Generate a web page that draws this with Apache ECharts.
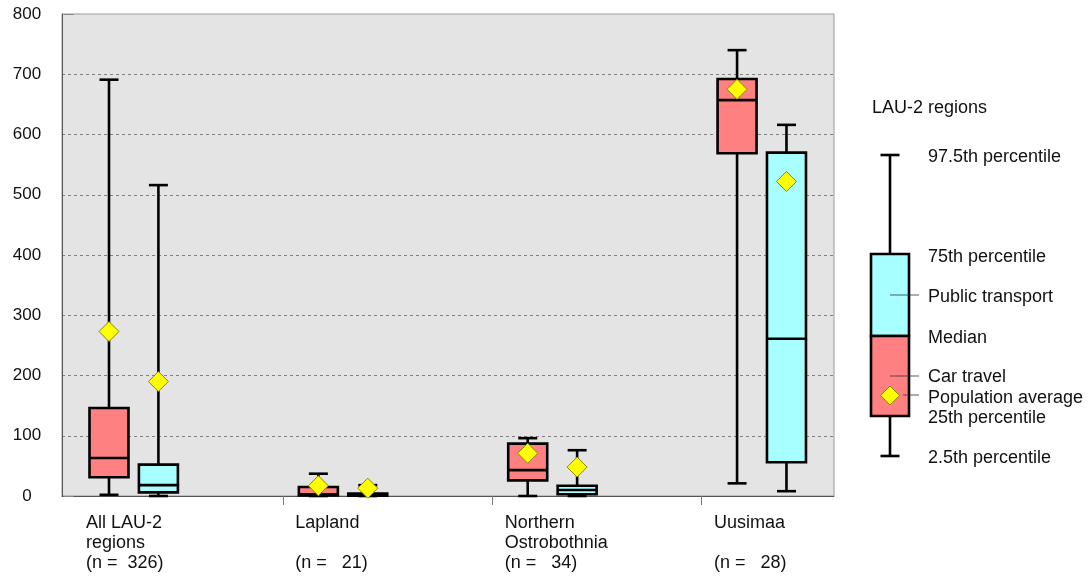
<!DOCTYPE html>
<html>
<head>
<meta charset="utf-8">
<script src="https://cdn.jsdelivr.net/npm/echarts@6/dist/echarts.min.js"></script>
<style>html,body{margin:0;padding:0;background:#fff;}#c{width:1091px;height:576px;}</style>
</head>
<body>
<div id="c"></div>
<script>
// ---- data ----
const categories = ['All LAU-2\nregions\n(n =  326)', 'Lapland\n\n(n =   21)', 'Northern\nOstrobothnia\n(n =   34)', 'Uusimaa\n\n(n =   28)'];
const yTicks = [0, 100, 200, 300, 400, 500, 600, 700, 800];
// Car travel: 2.5th, 25th, median, 75th, 97.5th percentiles, population average
const carLow    = [2, 0, 0, 21];
const carQ1     = [31, 1, 26, 569];
const carMedian = [63, 3, 43, 657];
const carQ3     = [146, 15, 87, 692];
const carHigh   = [691, 37, 96, 740];
const carMean   = [273, 17, 71, 675];
// Public transport
const ptLow    = [0, 0, 0, 8];
const ptQ1     = [6, 0.5, 3, 56];
const ptMedian = [18, 2, 10, 261];
const ptQ3     = [52, 4, 17, 570];
const ptHigh   = [516, 18, 76, 616];
const ptMean   = [190, 13, 48, 522];

// ---- layout constants ----
const CAR_OFF = 0.169, PT_OFF = 0.405, LABEL_OFF = 0.059;
const FONT = '"Liberation Sans", Arial, sans-serif';
const CAR_COLOR = '#ff8080', PT_COLOR = '#a8ffff';

function boxData(off, lo, q1, md, q3, hi) {
  return categories.map((c, i) => [i + off, lo[i], q1[i], md[i], q3[i], hi[i]]);
}
function meanData(off, m) { return categories.map((c, i) => [i + off, m[i]]); }

function renderBox(color) {
  return function (params, api) {
    const x = api.value(0);
    const cx = api.coord([x, 0])[0];
    const yLo = api.coord([x, api.value(1)])[1];
    const yQ1 = api.coord([x, api.value(2)])[1];
    const yMd = api.coord([x, api.value(3)])[1];
    const yQ3 = api.coord([x, api.value(4)])[1];
    const yHi = api.coord([x, api.value(5)])[1];
    const hw = 19.5, cw = 9.5;
    const ls = { stroke: '#000', lineWidth: 2.6 };
    return { type: 'group', children: [
      { type: 'line', shape: { x1: cx, y1: yHi, x2: cx, y2: yQ3 }, style: ls },
      { type: 'line', shape: { x1: cx, y1: yQ1, x2: cx, y2: yLo }, style: ls },
      { type: 'line', shape: { x1: cx - cw, y1: yHi, x2: cx + cw, y2: yHi }, style: ls },
      { type: 'line', shape: { x1: cx - cw, y1: yLo, x2: cx + cw, y2: yLo }, style: ls },
      { type: 'rect', shape: { x: cx - hw, y: yQ3, width: 2 * hw, height: yQ1 - yQ3 }, style: { fill: color, stroke: '#000', lineWidth: 2.6 } },
      { type: 'line', shape: { x1: cx - hw, y1: yMd, x2: cx + hw, y2: yMd }, style: ls }
    ]};
  };
}

const chart = echarts.init(document.getElementById('c'), null, { renderer: 'canvas' });

const legendX = 890, lblX = 928;
const legendTexts = [
  ['LAU-2 regions', 872, 108],
  ['97.5th percentile', lblX, 157],
  ['75th percentile', lblX, 257],
  ['Public transport', lblX, 297],
  ['Median', lblX, 338],
  ['Car travel', lblX, 377],
  ['Population average', lblX, 398],
  ['25th percentile', lblX, 418],
  ['2.5th percentile', lblX, 458]
];
const blk = { stroke: '#000', lineWidth: 2.6 };
const graphics = [
  { type: 'line', shape: { x1: legendX, y1: 155, x2: legendX, y2: 456 }, style: blk },
  { type: 'line', shape: { x1: legendX - 9.5, y1: 155, x2: legendX + 9.5, y2: 155 }, style: blk },
  { type: 'line', shape: { x1: legendX - 9.5, y1: 456, x2: legendX + 9.5, y2: 456 }, style: blk },
  { type: 'rect', shape: { x: 871, y: 254, width: 38, height: 82 }, style: { fill: PT_COLOR, stroke: '#000', lineWidth: 2.6 } },
  { type: 'rect', shape: { x: 871, y: 336, width: 38, height: 80 }, style: { fill: CAR_COLOR, stroke: '#000', lineWidth: 2.6 } },
  { type: 'line', shape: { x1: legendX, y1: 295, x2: 919, y2: 295 }, style: { stroke: '#333', lineWidth: 0.8 } },
  { type: 'line', shape: { x1: legendX, y1: 376, x2: 919, y2: 376 }, style: { stroke: '#333', lineWidth: 0.8 } },
  { type: 'line', shape: { x1: 903, y1: 395, x2: 919, y2: 395 }, style: { stroke: '#333', lineWidth: 0.8 } },
  { type: 'polygon', shape: { points: [[legendX, 386], [legendX + 9.5, 395.5], [legendX, 405], [legendX - 9.5, 395.5]] }, style: { fill: '#ffff00', stroke: '#8a8a00', lineWidth: 1 } }
].concat(legendTexts.map(t => ({
  type: 'text', x: t[1], y: t[2],
  style: { text: t[0], font: '18px ' + FONT, fill: '#111', verticalAlign: 'middle' }
})));

const yMin = yTicks[0], yMax = yTicks[yTicks.length - 1];

chart.setOption({
  animation: false,
  backgroundColor: '#fff',
  grid: { left: 62, right: 257, top: 14, bottom: 80, show: true, backgroundColor: '#e4e4e4', borderColor: '#999', borderWidth: 1 },
  xAxis: {
    type: 'value', min: -0.0555, max: 3.632,
    splitLine: { show: false },
    axisLine: { show: true, onZero: false, lineStyle: { color: '#555', width: 1 } },
    axisTick: { show: true, customValues: [1, 2, 3], length: 9, lineStyle: { color: '#777' } },
    axisLabel: {
      customValues: categories.map((c, i) => i + LABEL_OFF),
      formatter: v => categories[Math.round(v - LABEL_OFF)],
      align: 'left', verticalAlign: 'top', margin: 17, lineHeight: 20,
      fontSize: 18, fontFamily: FONT, color: '#111'
    }
  },
  yAxis: [{
    type: 'value', min: yMin, max: yMax, interval: yTicks[1] - yTicks[0],
    axisLine: { show: true, onZero: false, lineStyle: { color: '#555' } },
    axisTick: { show: false },
    splitLine: { show: true, showMinLine: false, showMaxLine: false, lineStyle: { color: '#808080', type: [3, 3], width: 1 } },
    axisLabel: { align: 'center', margin: 35, fontSize: 17, fontFamily: FONT, color: '#111' }
  }, {
    type: 'value', min: yMin, max: yMax, position: 'left', offset: 0,
    axisLine: { show: false }, splitLine: { show: false }, axisLabel: { show: false },
    axisTick: { show: true, inside: false, customValues: [yMin, yMax], length: 10, lineStyle: { color: '#888' } }
  }],
  series: [
    { type: 'custom', name: 'Car travel', renderItem: renderBox(CAR_COLOR), data: boxData(CAR_OFF, carLow, carQ1, carMedian, carQ3, carHigh), encode: { x: 0, y: [1, 2, 3, 4, 5] }, z: 2, clip: false },
    { type: 'custom', name: 'Public transport', renderItem: renderBox(PT_COLOR), data: boxData(PT_OFF, ptLow, ptQ1, ptMedian, ptQ3, ptHigh), encode: { x: 0, y: [1, 2, 3, 4, 5] }, z: 2, clip: false },
    { type: 'scatter', name: 'Population average', symbol: 'diamond', symbolSize: [20, 20], data: meanData(CAR_OFF, carMean).concat(meanData(PT_OFF, ptMean)), itemStyle: { color: '#ffff00', borderColor: '#8a8a00', borderWidth: 1, opacity: 1 }, z: 5 }
  ],
  graphic: graphics
});
</script>
</body>
</html>
